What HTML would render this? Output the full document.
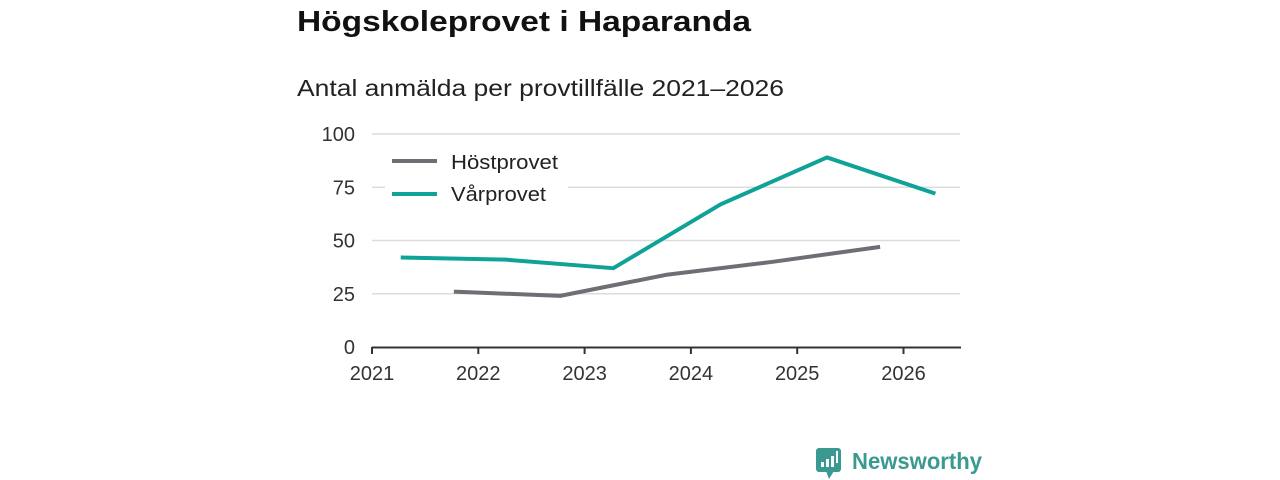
<!DOCTYPE html>
<html><head><meta charset="utf-8"><style>
html,body{margin:0;padding:0;background:#fff;}
svg{display:block;font-family:"Liberation Sans","DejaVu Sans",sans-serif;}
</style></head><body>
<svg id="chart" width="1280" height="480" viewBox="0 0 1280 480">
<text x="297" y="31" font-size="29" font-weight="bold" fill="#111" textLength="454" lengthAdjust="spacingAndGlyphs">Högskoleprovet i Haparanda</text>
<text x="297" y="96" font-size="23" fill="#222" textLength="487" lengthAdjust="spacingAndGlyphs">Antal anmälda per provtillfälle 2021–2026</text>
<g id="grid"></g>
<g id="xaxis"></g>
<g id="series"></g>
<g id="legend">
<rect x="385" y="145" width="183" height="62" fill="#fff"/>
<line x1="392" y1="161" x2="437" y2="161" stroke="#6f6e75" stroke-width="4"/>
<text x="451" y="169" font-size="20" fill="#222" textLength="107" lengthAdjust="spacingAndGlyphs">Höstprovet</text>
<line x1="392" y1="194" x2="437" y2="194" stroke="#0fa398" stroke-width="4"/>
<text x="451" y="201" font-size="20" fill="#222" textLength="95" lengthAdjust="spacingAndGlyphs">Vårprovet</text>
</g>
<g>
<rect x="816" y="448" width="25" height="24" rx="3" fill="#3a9a92"/>
<polygon points="826,471 834,471 829,479" fill="#3a9a92"/>
<rect x="821" y="462" width="3" height="5" fill="#fff"/><rect x="826" y="459" width="3" height="8" fill="#fff"/><rect x="831" y="456" width="3" height="11" fill="#fff"/><rect x="836" y="451" width="2" height="12" fill="#fff"/>
<text x="852" y="469" font-size="23" font-weight="bold" fill="#3a9a92" textLength="130" lengthAdjust="spacingAndGlyphs">Newsworthy</text>
</g>
</svg>
<script>
const yTicks=[0,25,50,75,100];
const xTicks=[2021,2022,2023,2024,2025,2026];
const hostX=[2021.77,2022.77,2023.78,2024.77,2025.78];
const hostVals=[26,24,34,40,47];
const varX=[2021.27,2022.26,2023.27,2024.28,2025.28,2026.3];
const varVals=[42,41,37,67,89,72];
const NS="http://www.w3.org/2000/svg";
function xs(v){return 372+(v-2021)*106.3;}
function ys(v){return 347-v*2.13;}
function mk(tag,attrs,parent){const e=document.createElementNS(NS,tag);for(const k in attrs)e.setAttribute(k,attrs[k]);parent.appendChild(e);return e;}
const grid=document.getElementById('grid');
yTicks.forEach(t=>{
  if(t>0){const l=mk('line',{x1:372,x2:960,y1:ys(t),y2:ys(t),stroke:'#dcdcdc','stroke-width':1.5},grid);
  
  }
  const tx=mk('text',{x:355,y:ys(t)+7,'font-size':20,fill:'#333','text-anchor':'end'},grid);
  tx.textContent=t;
  
  
});
const xa=document.getElementById('xaxis');
const ax=mk('line',{x1:372,x2:961,y1:347.5,y2:347.5,stroke:'#333','stroke-width':2},xa);


xTicks.forEach(t=>{
  mk('line',{x1:xs(t),x2:xs(t),y1:347,y2:354,stroke:'#333','stroke-width':2},xa);
  const tx=mk('text',{x:xs(t),y:380,'font-size':20,fill:'#333','text-anchor':'middle'},xa);
  tx.textContent=t;
  
  
});
const sg=document.getElementById('series');
function line(xv,yv,color,name){
  const p=mk('polyline',{points:xv.map((x,i)=>xs(x)+','+ys(yv[i])).join(' '),fill:'none',stroke:color,'stroke-width':4,'stroke-linejoin':'round'},sg);
  
  
}
line(hostX,hostVals,'#6f6e75','hostprovet-line');
line(varX,varVals,'#0fa398','varprovet-line');
</script>
</body></html>
